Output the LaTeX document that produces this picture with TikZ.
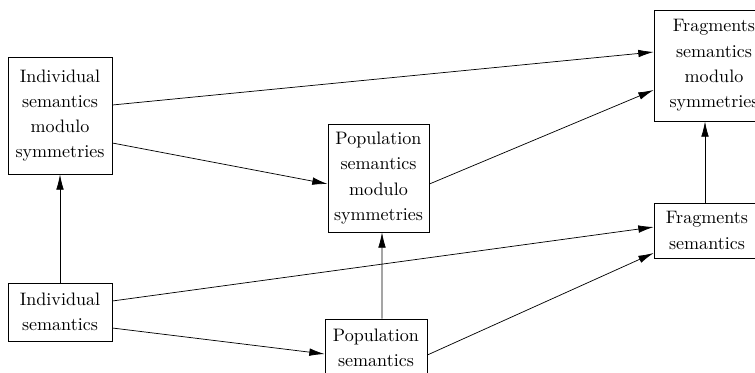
\documentclass[tikz,border=0pt]{standalone}
\usepackage{tikz}
\usetikzlibrary{calc,arrows.meta}
\tikzset{
	semabox/.style={draw, align=center, inner sep=2pt, font=\fontsize{10}{14}\selectfont},
	semaarrow/.style={-{Latex[length=8.5pt,width=4.2pt]}}
}

\begin{document}
\begin{tikzpicture}[x=0.554pt, y=-0.554pt]
				\clip (0,0) rectangle (755,372);
				
				\node[semabox, minimum width=57.6pt, minimum height=64.8pt] (indmod) at (60,115.5) {Individual\\semantics\\modulo\\symmetries};
				\node[semabox, minimum width=57.6pt, minimum height=32.1pt] (ind) at (60,312) {Individual\\semantics};
				
				\node[semabox, minimum width=56pt, minimum height=59.8pt] (popmod) at (378.5,178) {Population\\semantics\\modulo\\symmetries};
				\node[semabox, minimum width=56.5pt, minimum height=31.6pt] (pop) at (376,347.5) {Population\\semantics};
				
				\node[semabox, minimum width=66.5pt, minimum height=61.5pt] (fragmod) at (714,65.5) {Fragments\\semantics\\modulo\\symmetries};
				\node[semabox, minimum width=58.7pt, minimum height=30.5pt] (frag) at (707,230.5) {Fragments\\semantics};
				
				\draw[semaarrow] ($(indmod.east)+(0,-10.5)$) -- ($(fragmod.west)+(0,-13.5)$);
				\draw[semaarrow] ($(indmod.east)+(0,27.5)$) -- ($(popmod.west)+(0,6)$);
				\draw[semaarrow] ($(popmod.east)+(0,6)$) -- ($(fragmod.west)+(0,24.5)$);
				
				\draw[semaarrow] ($(ind.east)+(0,-11)$) -- ($(frag.west)+(0,-3.5)$);
				\draw[semaarrow] ($(ind.east)+(0,16)$) -- ($(pop.west)+(0,6.5)$);
				\draw[semaarrow] ($(pop.east)+(0,7.5)$) -- ($(frag.west)+(0,22.5)$);
				
				\draw[semaarrow] (ind.north) -- (indmod.south);
				\draw[semaarrow] ($(pop.north)+(6,0)$) -- ($(popmod.south)+(3.5,0)$);
				\draw[semaarrow] ($(frag.north)+(-2,0)$) -- ($(fragmod.south)+(-9,0)$);
			\end{tikzpicture}
\end{document}
